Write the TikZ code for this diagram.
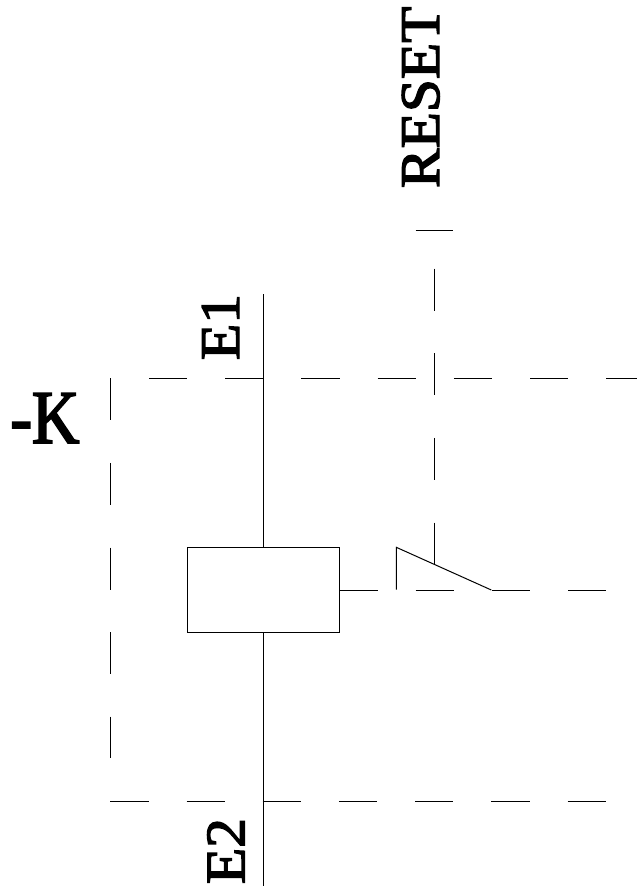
\documentclass[tikz,border=0pt]{standalone}
\usepackage{fontspec}
\setmainfont{Liberation Serif}
\newfontfamily\lblfont[FakeStretch=1.06,RawFeature={embolden=2.5}]{Liberation Serif}
\newfontfamily\kfont[FakeStretch=0.86,RawFeature={embolden=2.5}]{Liberation Serif}
\tikzset{
  wire/.style={draw=black,line width=0.75pt,line cap=butt},
  hdash/.style={wire,dash pattern=on 28.7pt off 28.45pt},
  vdash/.style={wire,dash pattern=on 31.6pt off 31.85pt},
  lbl/.style={inner sep=0pt,outer sep=0pt,anchor=base west,rotate=90,font=\lblfont\fontsize{42}{50}\selectfont},
  coil/.style={wire,fill=white,inner sep=0pt,minimum width=114pt,minimum height=63.5pt}
}
\begin{document}
\begin{tikzpicture}[x=0.75pt,y=-0.75pt]
\useasboundingbox (0,0) rectangle (637,892);
% coil
\node[coil] (coil) at (263,589.7) {};
% terminals and free ends
\coordinate (e1end) at (263,294);
\coordinate (e2end) at (263,885.5);
\draw[wire] (e1end) -- (coil.north);
\draw[wire] (coil.south) -- (e2end);
% enclosure dashes
\coordinate (topL) at (149,378.5);
\coordinate (topR) at (637,378.5);
\coordinate (botL) at (110.3,801);
\coordinate (botR) at (605.5,801);
\coordinate (leftT) at (110.5,378.3);
\coordinate (leftB) at (110.5,758);
\draw[hdash] (topL) -- (topR);
\draw[hdash] (botL) -- (botR);
\draw[vdash] (leftT) -- (leftB);
% contact
\coordinate (cA) at (396.3,589.7);
\coordinate (cB) at (396.3,547.3);
\coordinate (cC) at (491.3,590);
\coordinate (cR) at (605.5,590);
\coordinate (cT) at (434.3,268.7);
\coordinate (cM) at (434.3,564.3);
\draw[wire] (cA) -- (cB) -- (cC);
\draw[hdash] (coil.east |- cC) -- (cR);
\draw[vdash] (cT) -- (cM);
% reset bar
\coordinate (rL) at (415.7,230.5);
\coordinate (rR) at (453.3,230.5);
\draw[wire] (rL) -- (rR);
% labels
\node[lbl] (reset) at (439,188) {RESET};
\node[lbl] (e1) at (239,360) {E1};
\node[lbl] (e2) at (244.5,884) {E2};
\node[inner sep=0pt,anchor=base west,font=\kfont\fontsize{57}{60}\selectfont] (k) at (10,443) {-K};
\end{tikzpicture}
\end{document}
